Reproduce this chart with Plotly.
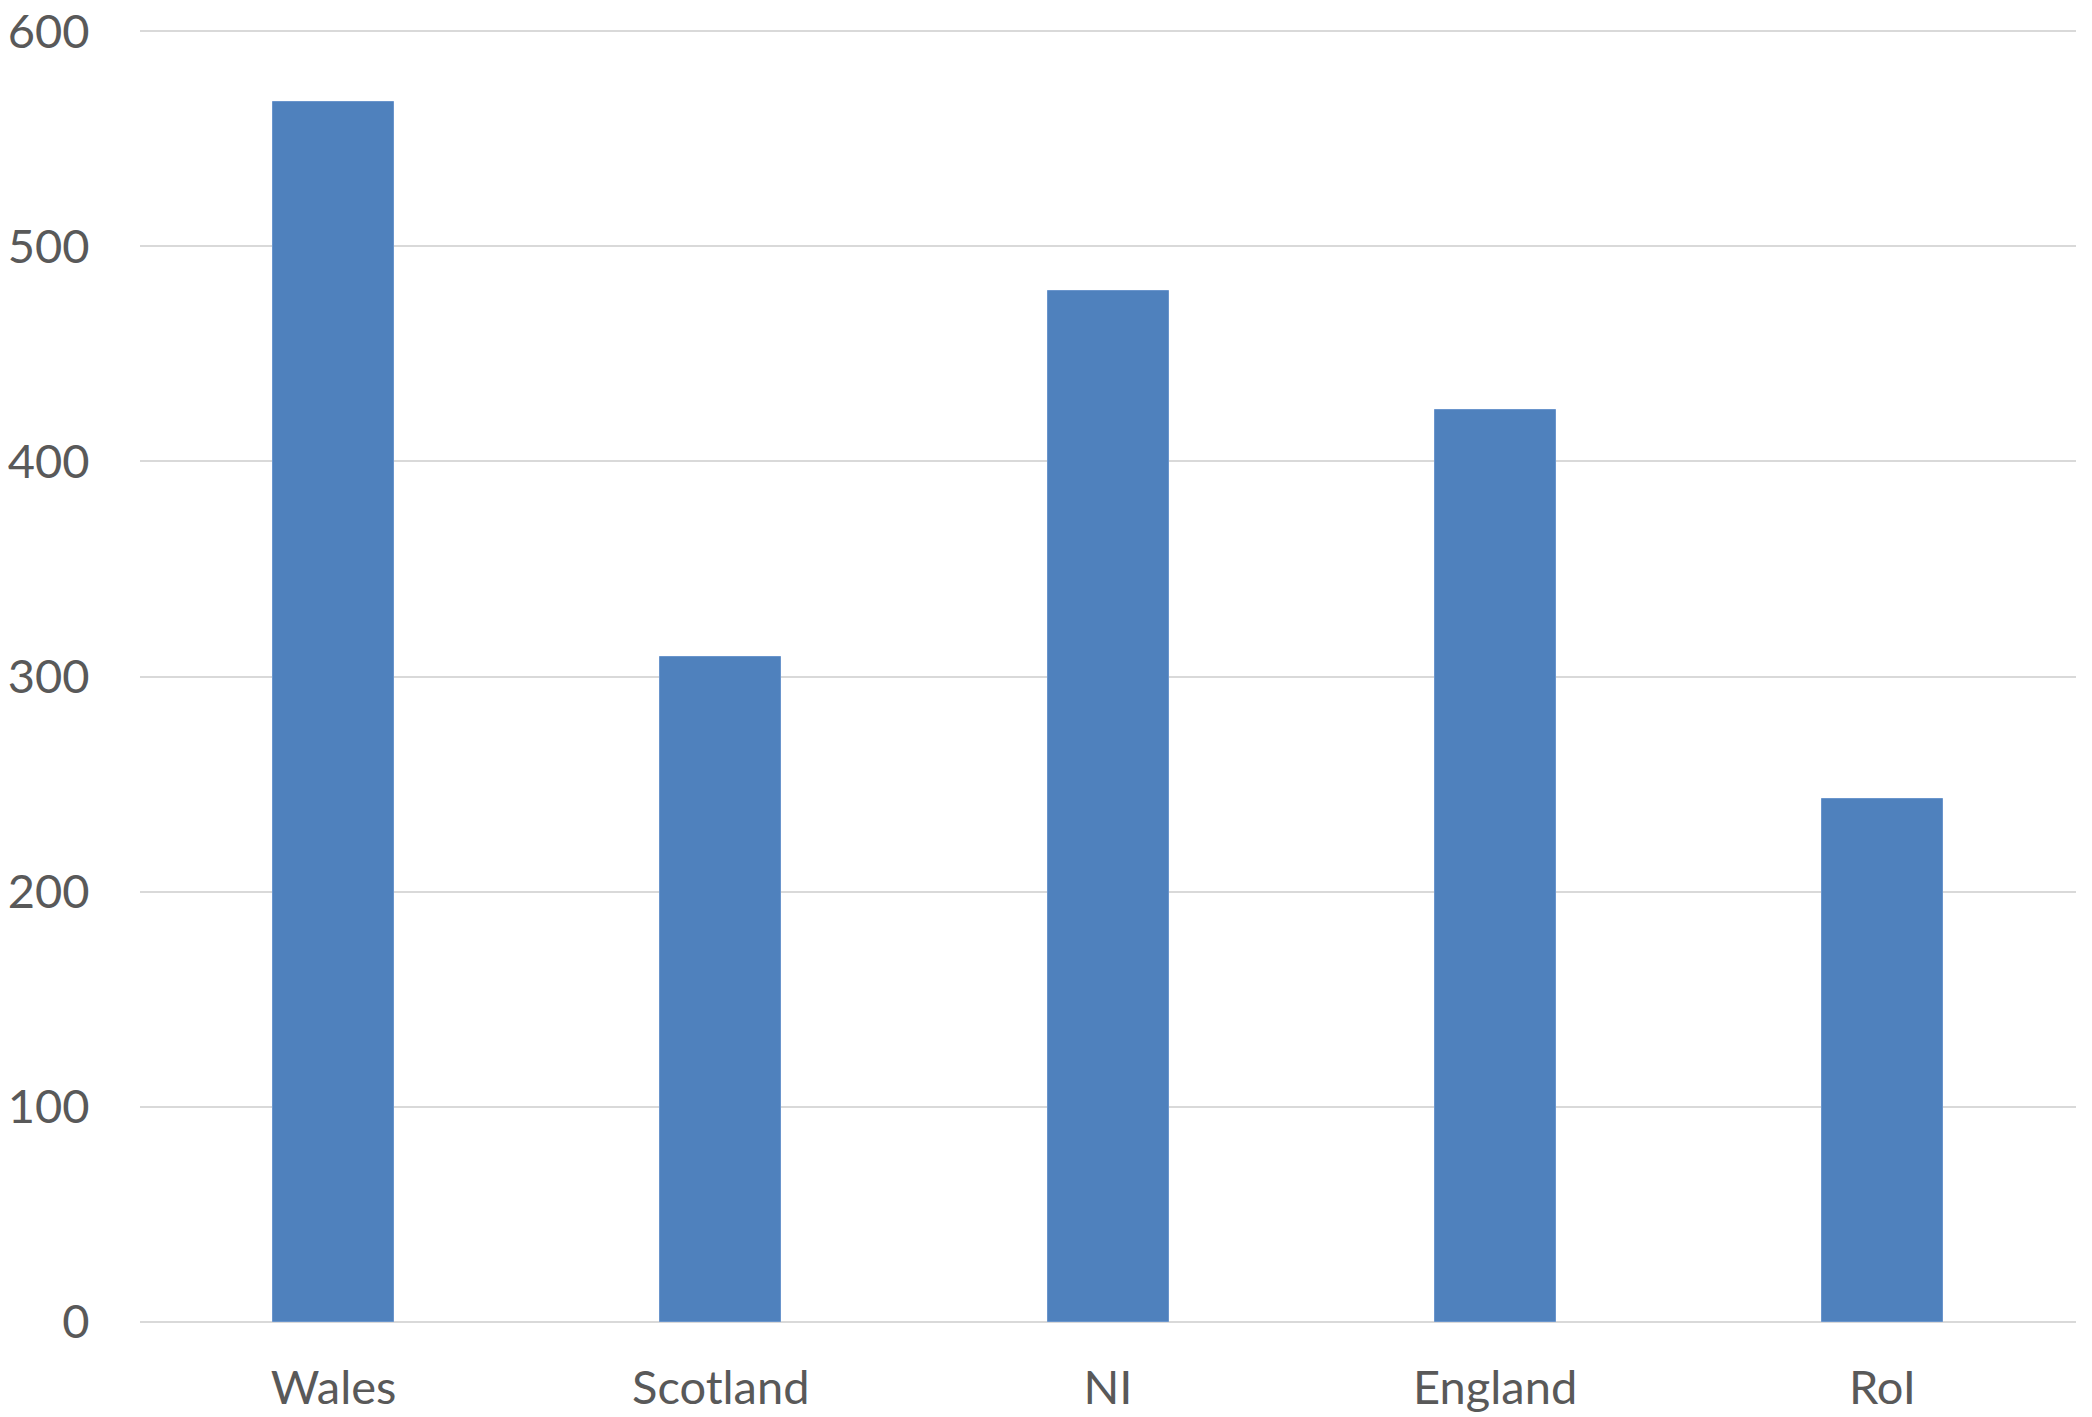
import plotly.graph_objects as go

categories = ["Wales", "Scotland", "NI", "England", "RoI"]
values = [567, 309, 479, 424, 243]
y_ticks = [0, 100, 200, 300, 400, 500, 600]

fig = go.Figure(
    go.Bar(
        x=categories,
        y=values,
        marker=dict(color="#4f81bd", line=dict(color="#6a95cc", width=1)),
        width=0.3125,
    )
)

font = dict(family="Lato, Noto Sans, sans-serif", size=47, color="#595959")

fig.update_layout(
    width=2084,
    height=1409,
    margin=dict(l=132, r=16, t=22, b=95),
    paper_bgcolor="white",
    plot_bgcolor="white",
    showlegend=False,
    font=font,
    bargap=0,
)
fig.update_xaxes(
    automargin=False,
    showgrid=False,
    showline=False,
    ticks="outside",
    ticklen=25,
    tickcolor="rgba(0,0,0,0)",
    tickfont=font,
    ticklabeloverflow="allow",
)
fig.update_yaxes(
    automargin=False,
    range=[0, 600.5],
    tickvals=y_ticks,
    showgrid=True,
    gridcolor="#d9d9d9",
    gridwidth=2,
    zeroline=True,
    zerolinecolor="#d9d9d9",
    zerolinewidth=2,
    showline=False,
    ticks="outside",
    ticklen=40,
    tickcolor="rgba(0,0,0,0)",
    tickfont=font,
    ticklabeloverflow="allow",
)

fig.write_html("out.html")
